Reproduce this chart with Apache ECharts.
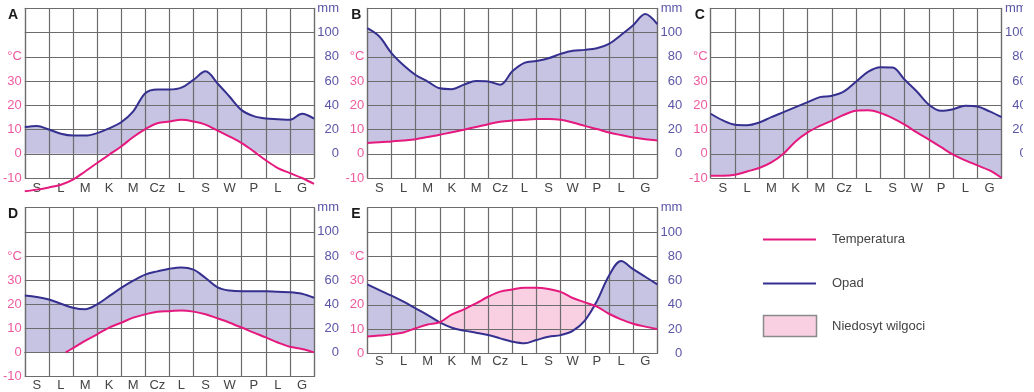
<!DOCTYPE html>
<html>
<head>
<meta charset="utf-8">
<script src="https://cdn.jsdelivr.net/npm/echarts@6/dist/echarts.min.js"></script>
<style>
  html, body { margin: 0; padding: 0; background: #fff; }
  #chart { width: 1034px; height: 392px; }
</style>
</head>
<body>
<div id="chart"></div>
<script>
// ---------- DATA ----------
// month labels (Polish initials, starting at September)
const months = ['S', 'L', 'M', 'K', 'M', 'Cz', 'L', 'S', 'W', 'P', 'L', 'G'];
// values are read at every half month: month edges and month centres (0, 0.5, 1, ... 12)
const precipA = [22, 23, 20, 16.5, 15, 15, 17, 21, 26, 35, 50, 53, 53, 54.5, 61, 68, 58, 47, 36, 31, 29, 28.5, 28, 33, 29];
const tempA   = [-15.5, -14.8, -13.9, -12.8, -10.7, -7.3, -3.8, -0.4, 3, 6.9, 10.2, 12.6, 13.3, 14, 13.3, 12, 9.5, 7.1, 4.4, 1, -2.7, -5.9, -8, -10, -12.4];

const precipB = [103.6, 96.7, 83, 73, 65, 59.6, 54, 53.3, 57, 60, 59.6, 57, 68, 75, 76.6, 78.8, 82.4, 85, 85.7, 87, 90.6, 98, 106, 115.4, 107];
const tempB   = [4.4, 4.7, 5.1, 5.5, 6, 6.9, 7.8, 8.9, 9.9, 11, 12.2, 13.2, 13.7, 14, 14.3, 14.3, 14, 12.9, 11.5, 10.2, 8.8, 7.7, 6.7, 6, 5.5];

const precipC = [33, 27.5, 24, 23.6, 25.8, 30.2, 34.3, 38.5, 42.6, 46.7, 47.8, 51.4, 59.6, 67.8, 71.4, 71.1, 61, 51.4, 40.4, 35.4, 36.8, 39.6, 39, 34.9, 30.2];
const tempC   = [-9.1, -9.1, -8.7, -7.3, -5.9, -3.6, 0, 5.1, 8.8, 11.5, 13.7, 16.1, 17.7, 17.9, 16.8, 14.7, 12, 8.8, 5.8, 2.7, -0.4, -2.7, -4.8, -6.9, -10];

const precipD = [47.2, 46, 43.9, 40.3, 37, 35.7, 39.8, 46.6, 53.5, 59.5, 64.5, 67.2, 69.4, 70.5, 68.6, 61.7, 54, 51.3, 50.7, 50.7, 50.7, 50.2, 49.9, 48.6, 45.3];
const tempD   = [null, null, null, null, 1.8, 4.8, 7.5, 10.3, 12.3, 14.4, 15.8, 16.9, 17.1, 17.4, 16.9, 15.8, 14.1, 12.3, 10.3, 8.2, 6.2, 4.1, 2.3, 1.4, 0];
const tempDStart = [1.7, 0];   // [month position, °C] where the D temperature line begins

const precipE = [56.8, 52.1, 47.5, 42.5, 37, 31.5, 25.5, 21.1, 18.7, 17, 15.1, 12.3, 9.6, 8.2, 11, 13.7, 15, 18.5, 27, 43, 64, 76, 69.4, 63.1, 56.8];
const tempE   = [6.9, 7.3, 7.8, 8.6, 10.3, 11.9, 12.8, 16, 18.1, 20.6, 23.3, 25.4, 26.3, 27, 27, 26.5, 25.3, 22.8, 21, 19.2, 16.3, 14, 12.2, 11, 10];

const legendLabels = ['Temperatura', 'Opad', 'Niedosyt wilgoci'];

// ---------- STYLE / LAYOUT ----------
const COL_T = '#e5197e', COL_P = '#35308f';
const LBL_T = '#ee5a9e', LBL_P = '#5a55a5';
const GRIDC = '#6c6c6c';
const FILL_P = '#c6c4e2';
const FILL_D = '#f8d0e2';
const FONT = 'Liberation Sans, Arial, sans-serif';
const SMOOTH = 0.35;

const pos = Array.from({length: 25}, (_, i) => i / 2);

const panels = [
  {name: 'A', precip: precipA, temp: tempA, floor: 0, tmin: -10, grid: {left: 24, top: 8.3, width: 290, height: 169.7}, catMargin: 4, noClip: true},
  {name: 'B', precip: precipB, temp: tempB, floor: null, tmin: -10, grid: {left: 367.3, top: 8.3, width: 290, height: 169.7}, catMargin: 4},
  {name: 'C', precip: precipC, temp: tempC, floor: null, tmin: -10, grid: {left: 710.7, top: 8.3, width: 291, height: 169.7}, catMargin: 4},
  {name: 'D', precip: precipD, temp: tempD, floor: 0, tmin: -10, grid: {left: 24, top: 207.7, width: 290, height: 170}, catMargin: 2.5, start: tempDStart},
  {name: 'E', precip: precipE, temp: tempE, floor: null, tmin: 0, grid: {left: 367.3, top: 207.7, width: 290, height: 145.6}, catMargin: 2, deficit: true}
];

const grids = [], xAxes = [], yAxes = [], series = [], graphics = [];
const AXZ = 4; // grid lines above the filled areas, below the curves

panels.forEach((p, gi) => {
  grids.push(Object.assign({containLabel: false}, p.grid));
  xAxes.push({
    type: 'category', gridIndex: gi, data: months, boundaryGap: true, position: 'bottom', z: AXZ,
    axisTick: {show: false},
    axisLine: {show: true, lineStyle: {color: GRIDC, width: 1.2}},
    axisLabel: {color: '#444', fontSize: 13, fontFamily: FONT, margin: p.catMargin, interval: 0},
    splitLine: {show: true, interval: 0, lineStyle: {color: GRIDC, width: 1.2}}
  });
  xAxes.push({type: 'value', gridIndex: gi, min: 0, max: 12, show: false, position: 'top'});
  yAxes.push({
    type: 'value', gridIndex: gi, min: p.tmin, max: 60, interval: 10, position: 'left', z: AXZ,
    axisLine: {show: true, lineStyle: {color: GRIDC, width: 1.2}},
    axisTick: {show: false},
    axisLabel: {
      color: LBL_T, fontSize: 13, fontFamily: FONT, margin: 3,
      formatter: v => v === 40 ? '°C' : (v > 40 ? '' : String(v))
    },
    splitLine: {show: true, lineStyle: {color: GRIDC, width: 1.2}}
  });
  yAxes.push({
    type: 'value', gridIndex: gi, min: p.tmin * 2, max: 120, interval: 20, position: 'right', z: AXZ,
    axisLine: {show: true, lineStyle: {color: GRIDC, width: 1.2}},
    axisTick: {show: false},
    axisLabel: {
      color: LBL_P, fontSize: 13, fontFamily: FONT, margin: 25, align: 'right',
      formatter: v => v === 120 ? 'mm' : (v < 0 ? '' : String(v))
    },
    splitLine: {show: false}
  });

  const xi = gi * 2 + 1, yi = gi * 2, yr = gi * 2 + 1;
  const areaBase = {type: 'line', xAxisIndex: xi, yAxisIndex: yi, smooth: SMOOTH, symbol: 'none', silent: true, lineStyle: {opacity: 0, width: 0}};
  const pT = p.precip.map(v => v / 2); // precipitation expressed on the °C scale (0..120 mm == 0..60 °C)

  let mask;
  if (p.deficit) {
    // moisture deficit: pink between temperature and precipitation where temperature is higher
    series.push(Object.assign({}, areaBase, {z: 1, data: p.temp.map((v, i) => [pos[i], v]), areaStyle: {color: FILL_D, opacity: 1, origin: 'start'}}));
    mask = pT.map((v, i) => [pos[i], Math.min(v, p.temp[i])]);
  } else {
    mask = [];
    p.temp.forEach((t, i) => {
      if (p.start && pos[i] > p.start[0] && (i === 0 || pos[i - 1] < p.start[0])) mask.push([p.start[0], Math.max(p.start[1], p.floor)]);
      const v = t == null ? p.floor : (p.floor == null ? t : Math.max(t, p.floor));
      mask.push([pos[i], v]);
    });
  }
  // precipitation area
  series.push(Object.assign({}, areaBase, {z: 2, data: pT.map((v, i) => [pos[i], v]), areaStyle: {color: FILL_P, opacity: 1, origin: 'start'}}));
  // white area below the lower curve
  series.push(Object.assign({}, areaBase, {z: 3, data: mask, areaStyle: {color: '#ffffff', opacity: 1, origin: 'start'}}));

  // precipitation line (right axis, mm)
  series.push({
    type: 'line', xAxisIndex: xi, yAxisIndex: yr, smooth: SMOOTH, symbol: 'none', silent: true, z: 6,
    data: p.precip.map((v, i) => [pos[i], v]),
    lineStyle: {color: COL_P, width: 2}
  });
  // temperature line (left axis, °C)
  const tData = [];
  if (p.start) tData.push(p.start.slice());
  p.temp.forEach((v, i) => { if (v != null) tData.push([pos[i], v]); });
  series.push({
    type: 'line', xAxisIndex: xi, yAxisIndex: yi, smooth: SMOOTH, symbol: 'none', silent: true, z: 7,
    data: tData, clip: !p.noClip,
    lineStyle: {color: COL_T, width: 2}
  });

  graphics.push({
    type: 'text', x: p.grid.left - 16, y: p.grid.top + 6.5, z: 10,
    style: {text: p.name, font: 'bold 14px ' + FONT, fill: '#1a1a1a', verticalAlign: 'middle', align: 'left'}
  });
});

// legend
graphics.push(
  {type: 'line', shape: {x1: 763, y1: 239.5, x2: 816, y2: 239.5}, style: {stroke: COL_T, lineWidth: 2}},
  {type: 'text', x: 832, y: 239.5, style: {text: legendLabels[0], font: '13px ' + FONT, fill: '#444', verticalAlign: 'middle'}},
  {type: 'line', shape: {x1: 763, y1: 283.5, x2: 816, y2: 283.5}, style: {stroke: COL_P, lineWidth: 2}},
  {type: 'text', x: 832, y: 283.5, style: {text: legendLabels[1], font: '13px ' + FONT, fill: '#444', verticalAlign: 'middle'}},
  {type: 'rect', shape: {x: 763.5, y: 315.5, width: 53, height: 21}, style: {fill: FILL_D, stroke: '#8a8a8a', lineWidth: 1.5}},
  {type: 'text', x: 832, y: 326, style: {text: legendLabels[2], font: '13px ' + FONT, fill: '#444', verticalAlign: 'middle'}},
  // the source picture is cropped at its right edge, cutting the last digits of panel C's mm scale
  {type: 'rect', z: 20, shape: {x: 1023, y: 0, width: 11, height: 200}, style: {fill: '#ffffff'}}
);

const chart = echarts.init(document.getElementById('chart'), null, {renderer: 'canvas'});
chart.setOption({
  animation: false,
  backgroundColor: '#ffffff',
  grid: grids,
  xAxis: xAxes,
  yAxis: yAxes,
  series: series,
  graphic: graphics
});
</script>
</body>
</html>
